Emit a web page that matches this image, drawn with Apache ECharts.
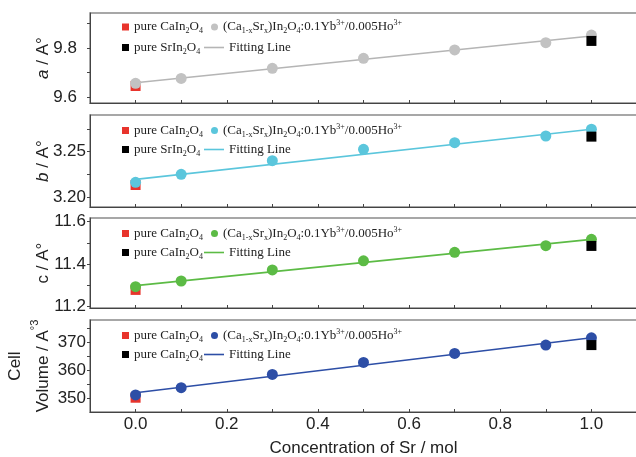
<!DOCTYPE html>
<html>
<head>
<meta charset="utf-8">
<script src="https://cdn.jsdelivr.net/npm/echarts@6/dist/echarts.min.js"></script>
<style>
  html, body { margin: 0; padding: 0; background: #fff; }
  #chart { width: 636px; height: 457px; }
</style>
</head>
<body>
<div id="chart"></div>
<script>
// Sr content of the doped samples
var xSr = [0, 0.1, 0.3, 0.5, 0.7, 0.9, 1.0];
// lattice parameters
var aVals = [9.656, 9.676, 9.717, 9.758, 9.792, 9.822, 9.853];
var bVals = [3.2164, 3.2252, 3.2401, 3.2526, 3.2599, 3.2672, 3.2746];
var cVals = [11.294, 11.321, 11.373, 11.416, 11.456, 11.487, 11.517];
var vVals = [351.2, 353.8, 358.5, 362.8, 366.0, 369.0, 371.6];
// pure CaIn2O4 (x = 0) and pure SrIn2O4 (x = 1) references
var pureCa = [9.645, 3.2135, 11.279, 350.2];
var pureSr = [9.829, 3.2665, 11.486, 369.0];
// fitting line, values at x = 0 and x = 1
var fitX = [0, 1.0];
var fitA = [9.658, 9.849];
var fitB = [3.2197, 3.2746];
var fitC = [11.299, 11.517];
var fitV = [352.0, 371.6];
// axis ticks / labels
var xTicks = [0, 0.1, 0.2, 0.3, 0.4, 0.5, 0.6, 0.7, 0.8, 0.9, 1.0];
var xLabels = [0, 0.2, 0.4, 0.6, 0.8, 1.0];
var aLabels = [9.6, 9.8];
var aTicks = [9.6, 9.7, 9.8, 9.9];
var bLabels = [3.20, 3.25];
var bTicks = [3.20, 3.225, 3.25, 3.275];
var cLabels = [11.2, 11.4, 11.6];
var cTicks = [11.2, 11.3, 11.4, 11.5, 11.6];
var vLabels = [350, 360, 370];
var vTicks = [350, 355, 360, 365, 370, 375];

var SANS = 'Liberation Sans';
var SERIF = 'Liberation Serif';

var panels = [
  { vals: aVals, fit: fitA, top: 13, height: 90, min: 9.5755, max: 9.943, labels: aLabels, ticks: aTicks, dec: 1,
    margin: 13, name: '{i|a} / A°', color: '#c2c2c2', lineColor: '#b5b5b5', srText: 'pure SrIn{s|2}O{s|4}' },
  { vals: bVals, fit: fitB, top: 115, height: 92, min: 3.1894, max: 3.2902, labels: bLabels, ticks: bTicks, dec: 2,
    margin: 4, name: '{i|b} / A°', color: '#5bc6dc', lineColor: '#5bc6dc', srText: 'pure SrIn{s|2}O{s|4}' },
  { vals: cVals, fit: fitC, top: 218, height: 90, min: 11.1939, max: 11.6174, labels: cLabels, ticks: cTicks, dec: 1,
    margin: 4, name: 'c / A°', color: '#5cbb45', lineColor: '#5cbb45', srText: 'pure CaIn{s|2}O{s|4}' },
  { vals: vVals, fit: fitV, top: 320, height: 92, min: 345.1, max: 377.96, labels: vLabels, ticks: vTicks, dec: 0,
    margin: 4, name: 'Cell\nVolume / A{u|°3}', color: '#2d4ea6', lineColor: '#2d4ea6', srText: 'pure CaIn{s|2}O{s|4}' }
];

var legendRich = {
  s: { fontFamily: SERIF, fontSize: 8, lineHeight: 8, verticalAlign: 'bottom', color: '#222' },
  u: { fontFamily: SERIF, fontSize: 8, lineHeight: 8, verticalAlign: 'top', color: '#222' }
};
var dopedText = '(Ca{s|1-x}Sr{s|x})In{s|2}O{s|4}:0.1Yb{u|3+}/0.005Ho{u|3+}';
var caText = 'pure CaIn{s|2}O{s|4}';
// thin horizontal stroke centred in a 20x7 box (the M points fix the bounding box)
var lineIcon = 'path://M0,0 M20,7 M0,2.7 L20,2.7 L20,4.3 L0,4.3 Z';

var grid = [], xAxis = [], yAxis = [], series = [], legend = [];
var labelMap = {};

function addLegend(name, text, left, top, icon, w, h) {
  labelMap[name] = text;
  legend.push({
    data: [name], left: left, top: top, icon: icon, itemWidth: w, itemHeight: h,
    selectedMode: false, padding: 0, itemGap: 0,
    formatter: function (n) { return labelMap[n]; },
    textStyle: { fontFamily: SERIF, fontSize: 13, lineHeight: 16, color: '#222', rich: legendRich }
  });
}

panels.forEach(function (p, i) {
  var last = i === panels.length - 1;
  grid.push({ left: 90, width: 547, top: p.top, height: p.height, show: true, outerBoundsMode: 'none',
    containLabel: false, borderColor: '#8a8a8a', borderWidth: 1.5, backgroundColor: 'transparent' });
  xAxis.push({
    type: 'value', gridIndex: i, min: -0.1, max: 1.1,
    axisLine: { onZero: false, lineStyle: { color: '#444', width: 1 } },
    axisTick: { inside: true, length: 3, customValues: xTicks, lineStyle: { color: '#444' } },
    splitLine: { show: false },
    axisLabel: { show: last, customValues: xLabels, margin: 4, color: '#222', fontFamily: SANS, fontSize: 17,
      formatter: function (v) { return v.toFixed(1); } },
    name: last ? 'Concentration of Sr / mol' : '', nameLocation: 'middle', nameGap: 28, nameMoveOverlap: false,
    nameTextStyle: { fontFamily: SANS, fontSize: 17, color: '#222' }
  });
  yAxis.push({
    type: 'value', gridIndex: i, min: p.min, max: p.max,
    axisLine: { show: true, onZero: false, lineStyle: { color: '#444', width: 1 } },
    axisTick: { show: true, inside: false, length: 3, customValues: p.ticks, lineStyle: { color: '#444' } },
    splitLine: { show: false },
    axisLabel: { customValues: p.labels, margin: p.margin, color: '#222', fontFamily: SANS, fontSize: 17,
      formatter: function (v) { return v.toFixed(p.dec); } },
    name: p.name, nameLocation: 'middle', nameRotate: 90, nameGap: last ? 33 : 37, nameMoveOverlap: false,
    nameTextStyle: { fontFamily: SANS, fontSize: 17, color: '#222', lineHeight: last ? 28 : 20,
      rich: {
        i: { fontFamily: SANS, fontSize: 17, fontStyle: 'italic', color: '#222', lineHeight: last ? 28 : 20 },
        u: { fontFamily: SANS, fontSize: 11, verticalAlign: 'top', color: '#222', lineHeight: 11 }
      } }
  });

  var ca = 'ca' + i, dop = 'dop' + i, sr = 'sr' + i, fit = 'fit' + i;
  series.push({
    name: ca, type: 'scatter', xAxisIndex: i, yAxisIndex: i, symbol: 'rect', symbolSize: 10,
    itemStyle: { color: '#e8342c', opacity: 1 }, z: 2, data: [[xSr[0], pureCa[i]]]
  });
  series.push({
    name: fit, type: 'line', xAxisIndex: i, yAxisIndex: i, symbol: 'none', showSymbol: false, z: 3,
    lineStyle: { color: p.lineColor, width: 1.6 }, itemStyle: { color: p.lineColor },
    data: fitX.map(function (x, k) { return [x, p.fit[k]]; })
  });
  series.push({
    name: dop, type: 'scatter', xAxisIndex: i, yAxisIndex: i, symbol: 'circle', symbolSize: 11,
    itemStyle: { color: p.color, opacity: 1 }, z: 4,
    data: xSr.map(function (x, k) { return [x, p.vals[k]]; })
  });
  series.push({
    name: sr, type: 'scatter', xAxisIndex: i, yAxisIndex: i, symbol: 'rect', symbolSize: 10,
    itemStyle: { color: '#000', opacity: 1 }, z: 5, data: [[xSr[xSr.length - 1], pureSr[i]]]
  });

  var r1 = p.top + (i === 0 ? 14 : 15.5) - 8;
  var r2 = p.top + 34.5 - 8;
  addLegend(ca, caText, 122, r1, 'rect', 7, 7);
  addLegend(dop, dopedText, 211, r1, 'circle', 7, 7);
  addLegend(sr, p.srText, 122, r2, 'rect', 7, 7);
  addLegend(fit, 'Fitting Line', 204, r2, lineIcon, 20, 7);
});

var chart = echarts.init(document.getElementById('chart'), null, { renderer: 'canvas' });
chart.setOption({
  animation: false,
  backgroundColor: '#fff',
  grid: grid,
  xAxis: xAxis,
  yAxis: yAxis,
  legend: legend,
  series: series
});
</script>
</body>
</html>
